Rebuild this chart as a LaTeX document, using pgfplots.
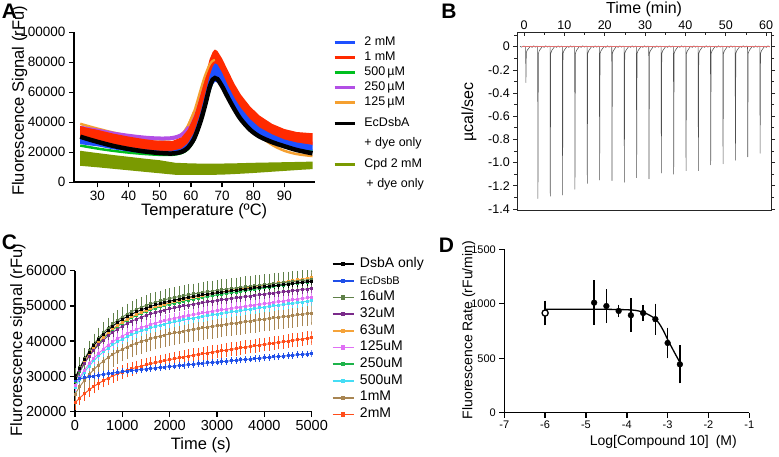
\documentclass[border=0pt]{standalone}
\usepackage{pgfplots}
\pgfplotsset{compat=1.18}
\usepackage{pgfplotstable}
\usepackage{fontspec}
\setmainfont{Liberation Sans}
\definecolor{blueA}{HTML}{1E50FF}
\definecolor{redA}{HTML}{FF2A00}
\definecolor{greenA}{HTML}{00BF1F}
\definecolor{purpleA}{HTML}{B24FE5}
\definecolor{orangeA}{HTML}{F5A030}
\definecolor{oliveA}{HTML}{7A9A01}
\definecolor{bkC}{HTML}{000000}
\definecolor{blC}{HTML}{1F4FE8}
\definecolor{olC}{HTML}{5F8048}
\definecolor{puC}{HTML}{7A2A8A}
\definecolor{orC}{HTML}{F5A33A}
\definecolor{maC}{HTML}{E070F5}
\definecolor{grC}{HTML}{1DB34A}
\definecolor{cyC}{HTML}{45DDF5}
\definecolor{brC}{HTML}{A88552}
\definecolor{rdC}{HTML}{FF4D1A}
\definecolor{traceB}{HTML}{505050}
\definecolor{redB}{HTML}{E07070}
\pgfplotstableread{
t bk bl ol pu or ma gr cy br rd
0 29500 29000 29500 29000 29000 27500 28500 27000 25000 22500
100 32310 29320 32440 31560 31730 29810 31280 29240 27100 23890
200 34770 29610 35000 33790 34120 31840 33710 31220 28940 25120
300 36920 29880 37240 35750 36220 33620 35840 32950 30560 26210
400 38810 30130 39200 37480 38070 35190 37710 34470 31990 27180
500 40460 30370 40920 38990 39700 36570 39360 35820 33250 28050
600 41910 30580 42430 40320 41140 37790 40800 37000 34370 28820
700 43190 30790 43750 41500 42410 38870 42090 38050 35360 29520
800 44320 30980 44920 42540 43540 39840 43220 39000 36240 30150
900 45320 31170 45950 43460 44550 40700 44230 39840 37020 30720
1000 46210 31340 46870 44290 45450 41470 45130 40590 37720 31240
1100 46990 31510 47680 45020 46250 42160 45930 41260 38360 31720
1200 47700 31670 48400 45680 46980 42780 46650 41870 38930 32160
1300 48330 31830 49040 46270 47630 43340 47300 42420 39450 32570
1400 48890 31980 49620 46810 48230 43860 47880 42930 39920 32940
1500 49400 32120 50140 47290 48770 44320 48410 43380 40350 33290
1600 49870 32270 50600 47730 49270 44750 48900 43800 40750 33630
1700 50290 32410 51030 48130 49720 45150 49340 44190 41110 33940
1800 50670 32550 51420 48510 50150 45520 49750 44560 41450 34230
1900 51020 32680 51770 48850 50540 45860 50130 44890 41770 34510
2000 51350 32810 52100 49170 50910 46180 50480 45210 42070 34780
2100 51650 32950 52390 49460 51250 46480 50810 45500 42350 35040
2200 51940 33080 52670 49740 51580 46770 51120 45790 42610 35290
2300 52200 33200 52940 50010 51890 47040 51410 46060 42870 35530
2400 52450 33330 53180 50260 52180 47300 51690 46320 43110 35770
2500 52690 33460 53410 50490 52470 47550 51950 46560 43340 36000
2600 52910 33580 53630 50720 52740 47790 52200 46800 43570 36220
2700 53130 33710 53840 50940 53000 48020 52450 47030 43780 36440
2800 53330 33830 54040 51150 53250 48250 52680 47260 44000 36660
2900 53530 33960 54230 51350 53500 48470 52910 47480 44200 36870
3000 53720 34080 54410 51550 53740 48680 53130 47690 44400 37080
3100 53910 34200 54590 51750 53970 48890 53350 47900 44600 37280
3200 54090 34330 54760 51940 54200 49100 53560 48110 44790 37490
3300 54270 34450 54930 52120 54430 49300 53770 48300 44980 37690
3400 54440 34570 55100 52300 54650 49500 53970 48500 45170 37890
3500 54620 34690 55260 52480 54870 49690 54170 48690 45350 38090
3600 54780 34810 55420 52660 55090 49890 54370 48890 45540 38290
3700 54950 34930 55580 52830 55310 50080 54560 49080 45720 38490
3800 55110 35050 55730 53000 55520 50270 54750 49270 45900 38680
3900 55270 35170 55880 53170 55730 50460 54950 49460 46080 38880
4000 55430 35300 56030 53340 55940 50650 55140 49650 46250 39070
4100 55590 35420 56180 53510 56150 50830 55320 49830 46430 39260
4200 55750 35540 56330 53680 56350 51020 55510 50020 46600 39460
4300 55910 35660 56470 53840 56560 51210 55700 50210 46780 39650
4400 56060 35780 56620 54010 56760 51390 55880 50390 46950 39840
4500 56220 35900 56770 54170 56970 51570 56070 50570 47130 40040
4600 56370 36020 56910 54340 57170 51760 56250 50760 47300 40230
4700 56530 36140 57060 54500 57380 51940 56440 50940 47470 40420
4800 56680 36260 57200 54660 57580 52120 56620 51120 47640 40610
4900 56830 36380 57340 54820 57780 52310 56800 51310 47820 40800
5000 56980 36500 57480 54990 57990 52490 56990 51490 47990 40990
}\dataC
\pgfplotsset{
  prism/.style={
    scale only axis,
    axis lines=left,
    axis line style={-, line width=1.6pt, black},
    tick style={line width=1.4pt, black},
    major tick length=5pt,
    tick align=outside,
    /pgf/number format/assume math mode=true,
    /pgf/number format/fixed,
    /pgf/number format/1000 sep={},
    scaled ticks=false,
  },
  cplot/.style 2 args={forget plot, color=#1, line width=0.9pt, mark=square*, mark size=1pt,
    error bars/.cd, y dir=both, y fixed=#2, error bar style={line width=0.6pt},
    error mark options={mark size=1.6pt, line width=0.6pt}},
  legA/.style={legend cell align=left,
    legend style={anchor=north west, draw=none, fill=none,
    inner sep=0pt, outer sep=0pt, row sep=#1, column sep=8.4pt,
    nodes={inner sep=0pt, outer sep=0pt, text height=9pt, text depth=3pt}, font=\fontsize{12.5}{13}\selectfont},
    legend image code/.code={\draw[##1] (0pt,0pt) -- (20pt,0pt);}},
}
\begin{document}
\begin{tikzpicture}
\useasboundingbox (0,0) rectangle (779pt,457pt);
% ---------------- Panel A ----------------
\begin{axis}[prism, at={(74pt,274.7pt)}, anchor=south west, width=241pt, height=150pt,
  xmin=22.5, xmax=99.8, ymin=0, ymax=100000,
  xtick={30,40,50,60,70,80,90}, ytick={0,20000,40000,60000,80000,100000},
  ticklabel style={font=\fontsize{13.5}{14}\selectfont},
  xlabel={Temperature (ºC)}, ylabel={Fluorescence Signal (rFu)},
  label style={font=\fontsize{16.5}{17}\selectfont},
  xlabel style={at={(axis description cs:0.54,-0.196)}, anchor=center},
  ylabel style={at={(axis description cs:-0.226,0.542)}, anchor=center},
  legA=3pt, legend style={at={(axis description cs:1.0747,0.974)}},
]
\addplot[forget plot, orangeA, line width=2.5pt, smooth] coordinates {(24.5,39000) (27,37500) (30,35800) (35,33200) (40,31000) (45,29500) (50,28500) (54,29000) (57,32000) (59,37500) (61,47000)};
\addplot[forget plot, orangeA, line width=2.5pt, smooth] coordinates {(67.7,81500) (68.5,80000) (70,73500) (72,63500) (74,54000) (76,46000) (79,37000) (82,31000) (86,25000) (90,21000) (94,18800) (99,17500)};
\addplot[forget plot, purpleA, line width=4pt, smooth] coordinates {(24.5,36500) (27,35500) (30,34500) (35,32500) (40,31000) (45,29800) (50,29200) (54,29500) (57,31500) (59,35500) (61,43000) (63,56000) (64.5,66000) (66,74000) (67,77000) (67.7,78000) (68.5,77000) (70,71500) (72,63500) (74,55500) (76,49000) (79,41500) (82,36000) (86,31000) (90,28500) (94,26800) (99,25800)};
\addplot[forget plot, fill=redA, draw=none] coordinates {(24.5,37500) (27,36200) (30,35000) (35,32500) (40,30500) (45,28800) (50,27500) (54,27500) (57,30000) (59,35000) (61,44000) (63,58000) (64.5,70000) (66,82000) (67,87000) (67.7,88500) (68.5,87500) (70,82500) (72,74000) (74,65500) (76,58500) (79,50500) (82,44500) (86,39000) (90,35500) (94,33500) (99,32700)
 (99,25000) (94,25500) (90,26500) (86,28500) (82,32000) (79,36500) (76,42500) (74,48500) (72,55500) (70,63000) (68.5,68000) (67.7,68500) (67,67000) (66,62000) (64.5,51000) (63,41000) (61,31000) (59,25000) (57,22000) (54,20500) (50,20500) (45,21000) (40,22000) (35,23500) (30,25000) (27,25800) (24.5,26500)} -- cycle;
\addplot[forget plot, orangeA, line width=2.2pt, smooth] coordinates {(59,37500) (61,47000) (63,61000) (64.5,71000) (66,78500) (67,81000) (67.7,81500)};
\addplot[forget plot, greenA, line width=2.5pt, smooth] coordinates {(24.5,24500) (30,22500) (35,21000) (40,19800) (45,18900) (50,18300) (54,18300) (57,19500) (59,22000) (61,28000) (63,39000) (64.5,50000) (66,61500) (67,67000) (67.7,69500) (68.5,69000) (70,64500) (72,56500) (74,49000) (76,43000) (79,36000) (82,31000) (86,27000) (90,24500) (94,22300) (99,21000)};
\addplot[forget plot, fill=blueA, draw=none] coordinates {(24.5,29500) (27,28400) (30,27500) (35,25400) (40,23500) (45,22000) (50,21000) (54,21000) (57,22500) (59,26000) (61,33000) (63,46000) (64.5,58000) (66,71000) (67,77000) (67.7,79300) (68.5,78500) (70,73000) (72,64000) (74,56000) (76,49500) (79,42000) (82,36500) (86,32000) (90,28500) (94,26500) (99,24900)
 (99,21100) (94,22500) (90,24500) (86,27000) (82,30500) (79,35000) (76,41500) (74,47500) (72,54500) (70,62000) (68.5,66500) (67.7,67000) (67,65000) (66,59000) (64.5,48000) (63,38000) (61,27500) (59,22000) (57,19500) (54,18500) (50,18500) (45,19300) (40,20500) (35,22000) (30,24000) (27,24700) (24.5,25500)} -- cycle;
\addplot[forget plot, black, line width=4.5pt, smooth] coordinates {(24.5,30400) (27,28800) (30,27000) (35,24300) (40,22200) (45,20600) (50,19500) (54,19200) (57,20300) (59,23000) (61,29000) (63,40000) (64.5,51000) (66,63500) (67,68500) (67.7,69500) (68.5,68800) (70,64000) (72,56000) (74,48500) (76,42000) (79,35000) (82,30500) (86,26800) (90,24000) (94,21500) (99,19300)};
\addplot[forget plot, fill=oliveA, draw=none] coordinates {(24.5,21000) (30,19500) (35,18200) (40,17000) (45,15800) (50,14700) (55,13000) (60,12600) (65,12400) (70,12500) (75,12700) (80,13000) (85,13200) (90,13400) (95,13600) (99,13800)
 (99,8800) (95,8300) (90,7600) (85,6900) (80,6200) (75,5600) (70,5100) (65,4900) (60,4900) (55,5000) (50,6000) (45,7000) (40,8000) (35,9000) (30,10000) (24.5,11000)} -- cycle;
\addlegendimage{blueA, line width=3pt}\addlegendentry{2 mM}
\addlegendimage{redA, line width=3pt}\addlegendentry{1 mM}
\addlegendimage{greenA, line width=3pt}\addlegendentry{500\,µM}
\addlegendimage{purpleA, line width=3pt}\addlegendentry{250\,µM}
\addlegendimage{orangeA, line width=3pt}\addlegendentry{125\,µM}
\end{axis}
% second part of legend A
\begin{axis}[scale only axis, hide axis, at={(74pt,274.7pt)}, anchor=south west, width=241pt, height=150pt,
  xmin=0, xmax=1, ymin=0, ymax=1,
  legA=8.3pt, legend style={at={(axis description cs:1.0747,0.432)}},
]
\addlegendimage{black, line width=3pt}\addlegendentry{EcDsbA}
\addlegendimage{empty legend}\addlegendentry{+ dye only}
\addlegendimage{oliveA, line width=3pt}\addlegendentry{Cpd 2 mM}
\addlegendimage{empty legend}\addlegendentry{\,+ dye only}
\end{axis}
% ---------------- Panel B ----------------
\begin{axis}[scale only axis, at={(517.3pt,246.3pt)}, anchor=south west, width=253.7pt, height=178.4pt,
  xmin=-1.66, xmax=61.2, ymin=-1.415, ymax=0.124,
  axis line style={line width=0.8pt, black!85},
  tick style={line width=0.7pt, black!85},
  tick align=outside, major tick length=4pt, minor tick length=3pt,
  major x tick style={yshift=-4pt}, minor x tick style={yshift=-3pt},
  xtick={0,10,20,30,40,50,60}, minor xtick={5,15,25,35,45,55},
  xtick pos=right, xticklabel pos=right,
  ytick={-1.4,-1.2,-1.0,-0.8,-0.6,-0.4,-0.2,0},
  yticklabels={-1.4,-1.2,-1.0,-0.8,-0.6,-0.4,-0.2,0},
  minor ytick={-1.3,-1.1,-0.9,-0.7,-0.5,-0.3,-0.1,0.1},
  ytick pos=both, yticklabel pos=left,
  /pgf/number format/assume math mode=true,
  ticklabel style={font=\fontsize{12.5}{13}\selectfont},
  xticklabel style={yshift=-5pt},
  xlabel={Time (min)}, ylabel={µcal/sec},
  label style={font=\fontsize{16}{17}\selectfont},
  xlabel style={at={(axis description cs:0.5,1.131)}, anchor=center},
  ylabel style={at={(axis description cs:-0.19,0.553)}, anchor=center},
]
\addplot[traceB, line width=0.55pt, line join=round] coordinates {
(-1,0.003) (-0.6,-0.004) (-0.2,0.005)
(0.41,0.002) (0.47,-0.31) (0.57,-0.05) (0.81,-0.03) (1.21,-0.012) (1.61,0.004) (2.01,-0.006) (2.41,0.007) (2.81,-0.004) (3.21,0.005)
(3.39,0.002) (3.45,-1.31) (3.55,-0.06) (3.79,-0.035) (4.19,-0.015) (4.59,0.004) (4.99,-0.006) (5.39,0.007) (5.79,-0.004) (6.19,0.005)
(6.45,0.002) (6.51,-1.29) (6.61,-0.06) (6.85,-0.035) (7.25,-0.015) (7.65,0.004) (8.05,-0.006) (8.45,0.007) (8.85,-0.004) (9.25,0.005)
(9.50,0.002) (9.56,-1.28) (9.66,-0.06) (9.90,-0.035) (10.30,-0.015) (10.70,0.004) (11.10,-0.006) (11.50,0.007) (11.90,-0.004) (12.30,0.005)
(12.56,0.002) (12.62,-1.23) (12.72,-0.06) (12.96,-0.035) (13.36,-0.015) (13.76,0.004) (14.16,-0.006) (14.56,0.007) (14.96,-0.004) (15.36,0.005)
(15.62,0.002) (15.68,-1.18) (15.78,-0.06) (16.02,-0.035) (16.42,-0.015) (16.82,0.004) (17.22,-0.006) (17.62,0.007) (18.02,-0.004) (18.42,0.005)
(18.68,0.002) (18.74,-1.15) (18.84,-0.06) (19.08,-0.035) (19.48,-0.015) (19.88,0.004) (20.28,-0.006) (20.68,0.007) (21.08,-0.004) (21.48,0.005)
(21.74,0.002) (21.80,-1.155) (21.90,-0.06) (22.14,-0.035) (22.54,-0.015) (22.94,0.004) (23.34,-0.006) (23.74,0.007) (24.14,-0.004) (24.54,0.005)
(24.80,0.002) (24.86,-1.17) (24.96,-0.06) (25.20,-0.035) (25.60,-0.015) (26.00,0.004) (26.40,-0.006) (26.80,0.007) (27.20,-0.004) (27.60,0.005)
(27.85,0.002) (27.91,-1.13) (28.01,-0.06) (28.25,-0.035) (28.65,-0.015) (29.05,0.004) (29.45,-0.006) (29.85,0.007) (30.25,-0.004) (30.65,0.005)
(30.91,0.002) (30.97,-1.14) (31.07,-0.06) (31.31,-0.035) (31.71,-0.015) (32.11,0.004) (32.51,-0.006) (32.91,0.007) (33.31,-0.004) (33.71,0.005)
(33.97,0.002) (34.03,-1.09) (34.13,-0.06) (34.37,-0.035) (34.77,-0.015) (35.17,0.004) (35.57,-0.006) (35.97,0.007) (36.37,-0.004) (36.77,0.005)
(37.03,0.002) (37.09,-1.10) (37.19,-0.06) (37.43,-0.035) (37.83,-0.015) (38.23,0.004) (38.63,-0.006) (39.03,0.007) (39.43,-0.004) (39.83,0.005)
(40.09,0.002) (40.15,-1.07) (40.25,-0.06) (40.49,-0.035) (40.89,-0.015) (41.29,0.004) (41.69,-0.006) (42.09,0.007) (42.49,-0.004) (42.89,0.005)
(43.14,0.002) (43.20,-1.07) (43.30,-0.06) (43.54,-0.035) (43.94,-0.015) (44.34,0.004) (44.74,-0.006) (45.14,0.007) (45.54,-0.004) (45.94,0.005)
(46.20,0.002) (46.26,-1.02) (46.36,-0.06) (46.60,-0.035) (47.00,-0.015) (47.40,0.004) (47.80,-0.006) (48.20,0.007) (48.60,-0.004) (49.00,0.005)
(49.26,0.002) (49.32,-1.01) (49.42,-0.06) (49.66,-0.035) (50.06,-0.015) (50.46,0.004) (50.86,-0.006) (51.26,0.007) (51.66,-0.004) (52.06,0.005)
(52.32,0.002) (52.38,-0.98) (52.48,-0.06) (52.72,-0.035) (53.12,-0.015) (53.52,0.004) (53.92,-0.006) (54.32,0.007) (54.72,-0.004) (55.12,0.005)
(55.38,0.002) (55.44,-0.95) (55.54,-0.06) (55.78,-0.035) (56.18,-0.015) (56.58,0.004) (56.98,-0.006) (57.38,0.007) (57.78,-0.004) (58.18,0.005)
(58.44,0.002) (58.50,-0.92) (58.60,-0.06) (58.84,-0.035) (59.24,-0.015) (59.64,0.004) (60.04,-0.006) (60.44,0.007) (60.84,-0.004)
};
\addplot[redB, line width=0.8pt] coordinates {(-0.6,0) (61,0)};
\end{axis}
% ---------------- Panel C ----------------
\begin{axis}[prism, at={(75pt,45.3pt)}, anchor=south west, width=236.7pt, height=141pt,
  xmin=0, xmax=5000, ymin=20000, ymax=60000,
  xtick={0,1000,2000,3000,4000,5000}, ytick={20000,30000,40000,50000,60000},
  ticklabel style={font=\fontsize{14.5}{15}\selectfont},
  xlabel={Time (s)}, ylabel={Flurorescence signal (rFu)},
  label style={font=\fontsize{16.5}{17}\selectfont},
  xlabel style={at={(axis description cs:0.532,-0.236)}, anchor=center},
  ylabel style={at={(axis description cs:-0.241,0.508)}, anchor=center},
  legend cell align=left,
  legend style={at={(axis description cs:1.0845,1.095)}, anchor=north west, draw=none, fill=none,
    inner sep=0pt, outer sep=0pt, row sep=3.2pt, column sep=5pt,
    nodes={inner sep=0pt, outer sep=0pt, text height=10pt, text depth=3.5pt}, font=\fontsize{14}{15}\selectfont},
  legend image code/.code={\draw[mark repeat=2,mark phase=2,#1] plot coordinates {(0pt,0pt) (10.8pt,0pt) (21.6pt,0pt)};},
]
\addplot[cplot={rdC}{1500}] table[x=t, y=rd] {\dataC};
\addplot[cplot={brC}{3000}] table[x=t, y=br] {\dataC};
\addplot[cplot={cyC}{1000}] table[x=t, y=cy] {\dataC};
\addplot[cplot={grC}{800}] table[x=t, y=gr] {\dataC};
\addplot[cplot={maC}{1200}] table[x=t, y=ma] {\dataC};
\addplot[cplot={orC}{1000}] table[x=t, y=or] {\dataC};
\addplot[cplot={puC}{800}] table[x=t, y=pu] {\dataC};
\addplot[cplot={olC}{2500}] table[x=t, y=ol] {\dataC};
\addplot[cplot={blC}{500}] table[x=t, y=bl] {\dataC};
\addplot[cplot={bkC}{600}] table[x=t, y=bk] {\dataC};
\addlegendimage{bkC, line width=1.7pt, mark=square*, mark size=1.3pt}\addlegendentry{DsbA only}
\addlegendimage{blC, line width=1.7pt, mark=square*, mark size=1.3pt}\addlegendentry{{\fontsize{11}{12}\selectfont EcDsbB}}
\addlegendimage{olC, line width=1.7pt, mark=square*, mark size=1.3pt}\addlegendentry{16uM}
\addlegendimage{puC, line width=1.7pt, mark=square*, mark size=1.3pt}\addlegendentry{32uM}
\addlegendimage{orC, line width=1.7pt, mark=square*, mark size=1.3pt}\addlegendentry{63uM}
\addlegendimage{maC, line width=1.7pt, mark=square*, mark size=1.3pt}\addlegendentry{125uM}
\addlegendimage{grC, line width=1.7pt, mark=square*, mark size=1.3pt}\addlegendentry{250uM}
\addlegendimage{cyC, line width=1.7pt, mark=square*, mark size=1.3pt}\addlegendentry{500uM}
\addlegendimage{brC, line width=1.7pt, mark=square*, mark size=1.3pt}\addlegendentry{1mM}
\addlegendimage{rdC, line width=1.7pt, mark=square*, mark size=1.3pt}\addlegendentry{2mM}
\end{axis}
% ---------------- Panel D ----------------
\begin{axis}[prism, at={(504.3pt,44.3pt)}, anchor=south west, width=245pt, height=163.4pt,
  xmin=-7, xmax=-1, ymin=0, ymax=1500,
  xtick={-7,-6,-5,-4,-3,-2,-1}, xticklabels={-7,-6,-5,-4,-3,-2,-1},
  ytick={0,500,1000,1500},
  ticklabel style={font=\fontsize{11}{12}\selectfont},
  xlabel={Log[Compound 10]\enspace(M)}, ylabel={Fluorescence Rate (rFu/min)},
  label style={font=\fontsize{14}{15}\selectfont},
  xlabel style={at={(axis description cs:0.649,-0.177)}, anchor=center},
  ylabel style={at={(axis description cs:-0.145,0.506)}, anchor=center},
]
\addplot[black, line width=1.3pt, smooth] coordinates {(-6,950) (-5,950) (-4.5,949) (-4.2,947) (-4,945) (-3.8,940) (-3.7,933) (-3.6,922) (-3.5,906) (-3.4,886) (-3.3,860) (-3.2,815) (-3.1,750) (-3.0,672) (-2.9,600) (-2.8,530) (-2.7,462)};
\addplot[black, only marks, mark=*, mark size=2.9pt, error bars/.cd, y dir=both, y explicit,
  error bar style={line width=1.3pt}, error mark options={mark size=4.8pt, line width=1.3pt}]
  coordinates {(-4.8,1010) +- (0,160) (-4.5,979) +- (0,112) (-4.2,934) +- (0,15) (-3.9,895) +- (0,112) (-3.6,915) +- (0,30) (-3.3,858) +- (0,100) (-3.0,640) +- (0,97) (-2.7,444) +- (0,130)};
\addplot[black, only marks, mark=*, mark size=3.1pt, mark options={fill=white, line width=1.3pt}, error bars/.cd, y dir=both, y explicit,
  error bar style={line width=1.3pt}, error mark options={mark size=4.8pt, line width=1.3pt}]
  coordinates {(-6,915) +- (0,69)};
\end{axis}
\node[font=\fontsize{21}{21}\selectfont\bfseries] at (9.5pt,446.2pt) {A};
\node[font=\fontsize{21}{21}\selectfont\bfseries] at (449pt,445.3pt) {B};
\node[font=\fontsize{21}{21}\selectfont\bfseries] at (9.5pt,214.5pt) {C};
\node[font=\fontsize{21}{21}\selectfont\bfseries] at (446.5pt,212pt) {D};
\end{tikzpicture}
\end{document}
